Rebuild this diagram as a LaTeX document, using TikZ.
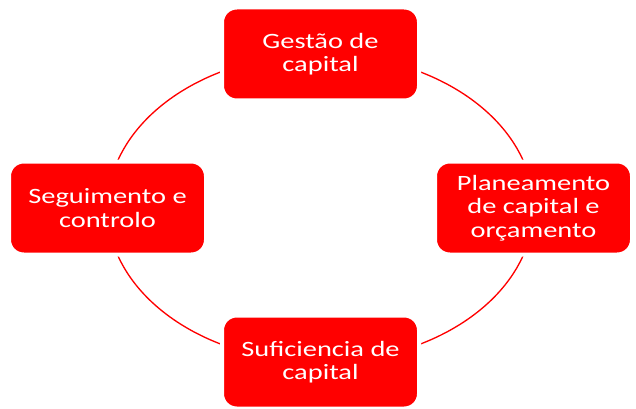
\documentclass[tikz,border=0pt]{standalone}
\usepackage{fontspec}
\setmainfont{Carlito}[FakeStretch=1.3]
\usetikzlibrary{backgrounds}
\begin{document}
\begin{tikzpicture}[x=0.75pt,y=0.75pt,
  etapa/.style={rectangle,rounded corners=11pt,fill=red,draw=white,line width=3pt,
    minimum width=147.75pt,minimum height=69.75pt,inner sep=0pt,
    text=white,align=center,font=\fontsize{16.4}{17.6}\selectfont},
  ciclo/.style={red,line width=1pt}]
 \useasboundingbox (0,0) rectangle (636,408);
 \node[etapa] (gestao) at (320.5,354) {Gestão de\\capital};
 \node[etapa] (planeamento) at (533.5,200) {Planeamento\\de capital e\\orçamento};
 \node[etapa] (suficiencia) at (320.5,46) {Suficiencia de\\capital};
 \node[etapa] (seguimento) at (107.5,200) {Seguimento e\\controlo};
 \begin{scope}[on background layer]
 \draw[ciclo] (gestao.center) arc[start angle=90,end angle=180,x radius=213,y radius=154];
 \draw[ciclo] (seguimento.center) arc[start angle=180,end angle=270,x radius=213,y radius=154];
 \draw[ciclo] (suficiencia.center) arc[start angle=270,end angle=360,x radius=213,y radius=154];
 \draw[ciclo] (planeamento.center) arc[start angle=0,end angle=90,x radius=213,y radius=154];
 \end{scope}
\end{tikzpicture}
\end{document}
